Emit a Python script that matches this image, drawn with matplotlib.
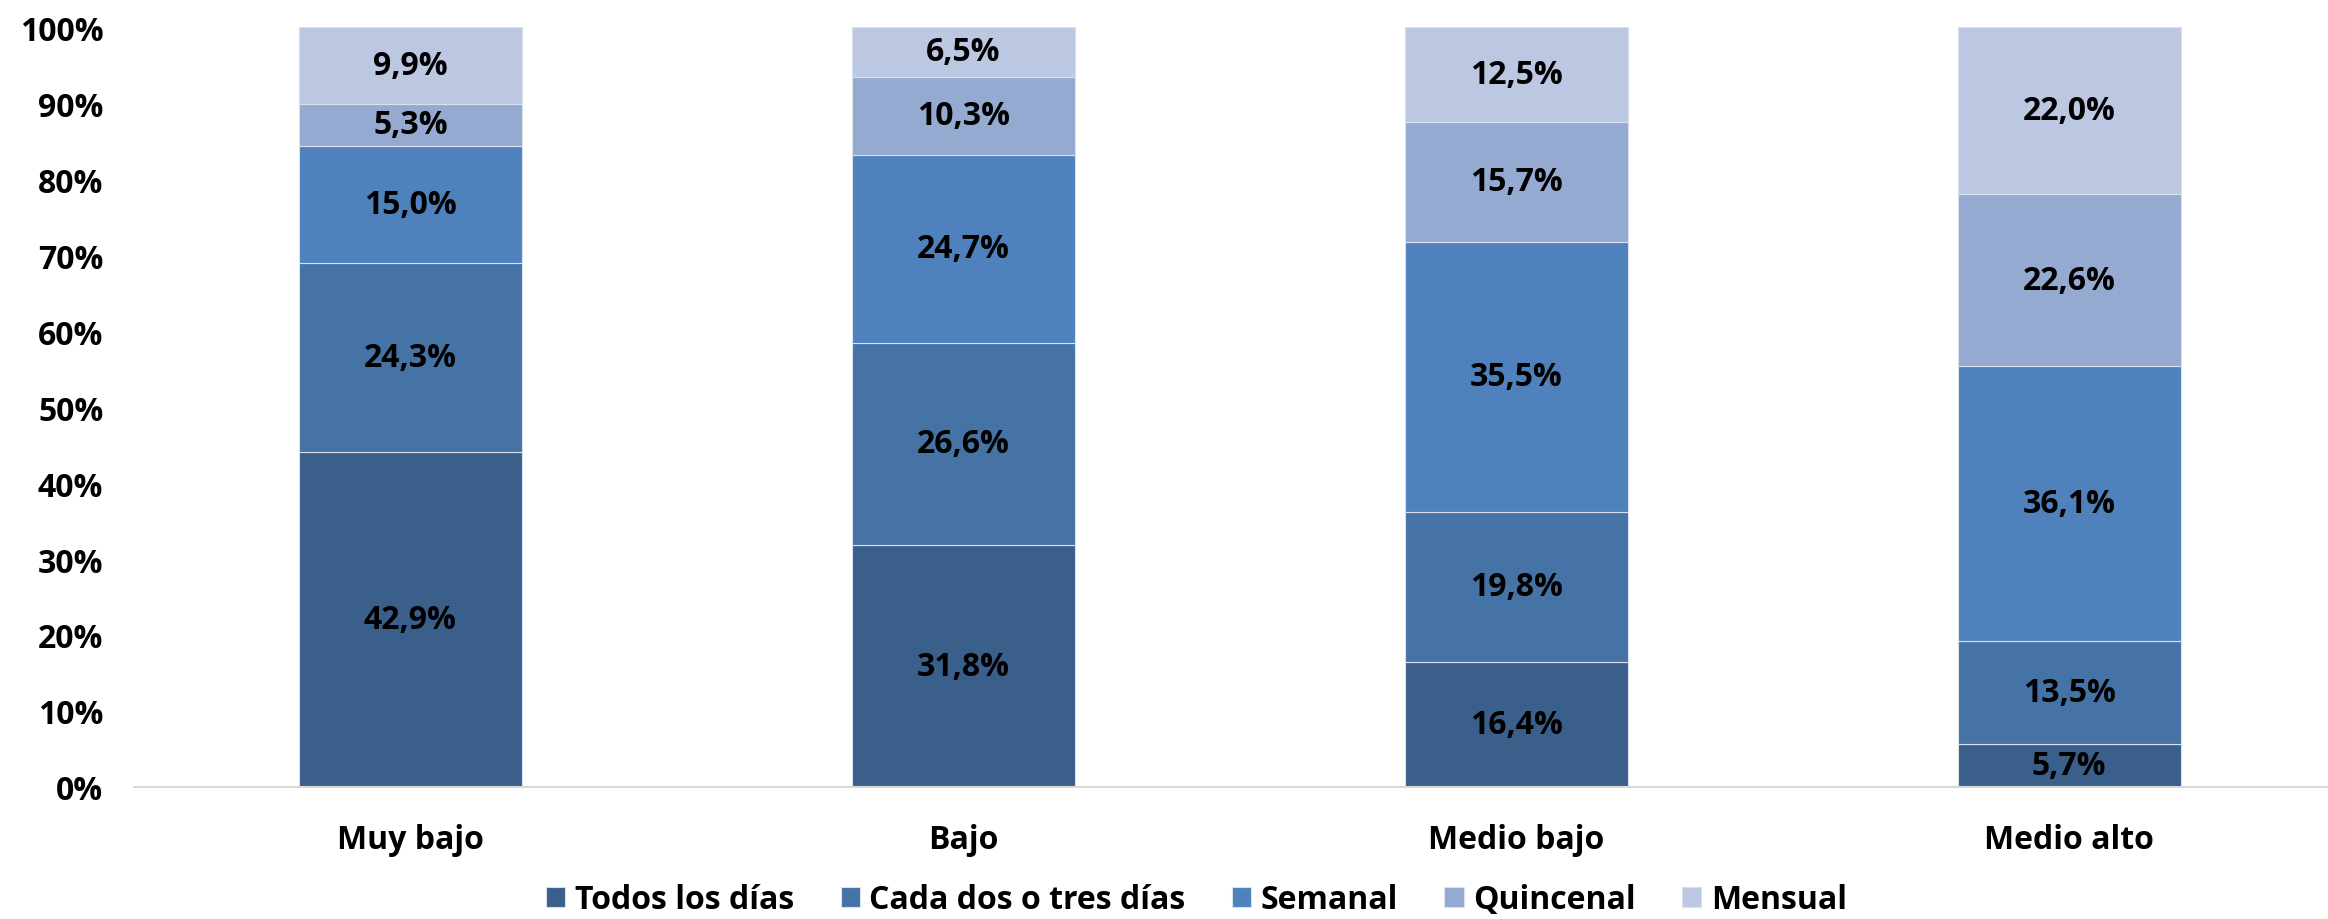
import matplotlib.pyplot as plt
import numpy as np

categorias = ["Muy bajo", "Bajo", "Medio bajo", "Medio alto"]
series = ["Todos los días", "Cada dos o tres días", "Semanal", "Quincenal", "Mensual"]
todos = [42.9, 31.8, 16.4, 5.7]
cada_dos = [24.3, 26.6, 19.8, 13.5]
semanal = [15.0, 24.7, 35.5, 36.1]
quincenal = [5.3, 10.3, 15.7, 22.6]
mensual = [9.9, 6.5, 12.5, 22.0]
colores = ["#3A5F8B", "#4673A6", "#4F81BC", "#95AAD0", "#BCC8E1"]

plt.rcParams['font.family'] = ['Open Sans', 'DejaVu Sans']
plt.rcParams['font.weight'] = 'bold'

datos = np.array([todos, cada_dos, semanal, quincenal, mensual])
totales = datos.sum(axis=0)
norm = datos / totales * 100

fig = plt.figure(figsize=(23.28, 9.2), dpi=100)
ax = fig.add_axes([0.0575, 0.1435, 0.9425, 0.826])
x = np.arange(len(categorias))
base = np.zeros(len(categorias))
for i, nombre in enumerate(series):
    ax.bar(x, norm[i], 0.403, bottom=base, color=colores[i], label=nombre,
           edgecolor="#d9e0ee", linewidth=0.8)
    for j in range(len(categorias)):
        ax.text(x[j], base[j] + norm[i][j] / 2, "{:.1f}%".format(datos[i][j]).replace(".", ","),
                ha="center", va="center", fontsize=23, fontweight="bold", color="black")
    base = base + norm[i]

ax.set_ylim(0, 100)
ax.set_xlim(-0.5, 3.468)
ax.set_yticks(np.arange(0, 101, 10))
ax.set_yticklabels(["{}%".format(v) for v in range(0, 101, 10)], fontsize=23, fontweight="bold")
ax.set_xticks(x)
ax.set_xticklabels(categorias, fontsize=23, fontweight="bold")
ax.tick_params(axis="y", length=0, pad=22)
ax.tick_params(axis="x", length=0, pad=26)
for s in ["top", "right", "left"]:
    ax.spines[s].set_visible(False)
ax.spines["bottom"].set_color("#d9d9d9")
ax.spines["bottom"].set_linewidth(1.5)

fig.legend(loc="lower center", bbox_to_anchor=(0.514, -0.028), ncol=5, frameon=False,
           fontsize=23, handlelength=0.6, handleheight=0.6, handletextpad=0.3, columnspacing=1.45)

fig.savefig("out.png", dpi=100)
